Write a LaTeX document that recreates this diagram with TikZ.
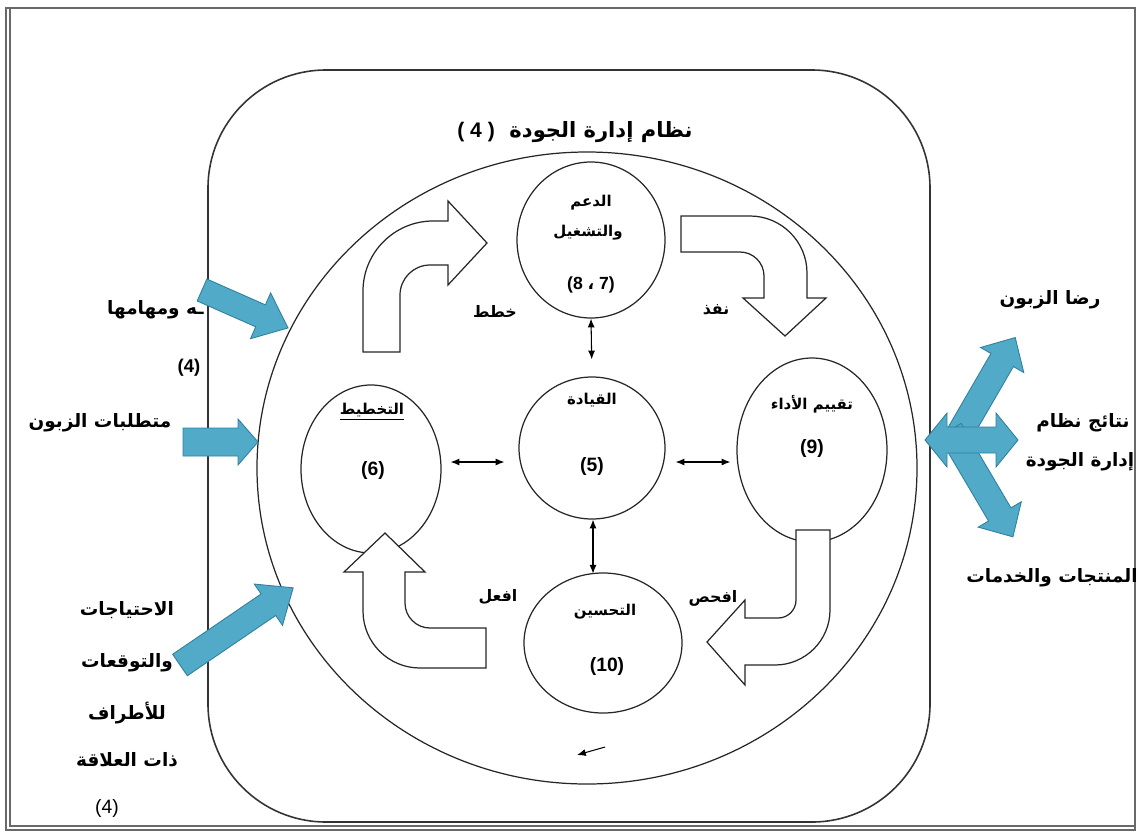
\documentclass[tikz,border=0pt]{standalone}
\usepackage{fontspec}
\setmainfont{Liberation Sans}
\newfontfamily\arabicfont[Script=Arabic]{DejaVu Sans}
\TeXXeTstate=1
\usetikzlibrary{shapes.geometric,arrows.meta,calc}

\definecolor{flowfill}{RGB}{80,170,200}
\definecolor{flowedge}{RGB}{48,128,158}
\definecolor{framegray}{RGB}{105,105,105}

\newdimen\pxu
\pxu=0.02cm

% Arabic text, set right to left
\newcommand{\artext}[1]{{\arabicfont\beginR #1\endR}}

% solid blue arrow: tail x, tail y, angle, length, shaft half-width, head half-width, head length
\newcommand{\flowarrow}[7]{%
  \begin{scope}[shift={(#1,#2)},rotate=#3]
    \path[flow] (0,-#5) -- ({#4-#7},-#5) -- ({#4-#7},-#6) -- (#4,0)
      -- ({#4-#7},#6) -- ({#4-#7},#5) -- (0,#5) -- cycle;
  \end{scope}}

% two-headed blue arrow: centre x, centre y, angle, half length, shaft half-width, head half-width, head length
\newcommand{\twowayarrow}[7]{%
  \begin{scope}[shift={(#1,#2)},rotate=#3]
    \path[flow] (-#4,0) -- ({-#4+#7},-#6) -- ({-#4+#7},-#5) -- ({#4-#7},-#5)
      -- ({#4-#7},-#6) -- (#4,0) -- ({#4-#7},#6) -- ({#4-#7},#5)
      -- ({-#4+#7},#5) -- ({-#4+#7},#6) -- cycle;
  \end{scope}}

\begin{document}
\begin{tikzpicture}[x=0.02cm,y=-0.02cm,
  outline/.style={draw=black!85, line width=0.7pt},
  phase/.style={ellipse, outline, inner sep=0pt},
  link/.style={{Latex[length=5pt,width=4pt]}-{Latex[length=5pt,width=4pt]}, line width=0.6pt},
  bendarrow/.style={outline, fill=white, line join=miter},
  flow/.style={fill=flowfill, draw=flowedge, line width=0.5pt, line join=miter},
  ctext/.style={font=\fontsize{8.5}{10}\selectfont\bfseries, inner sep=0pt},
  cnum/.style={font=\fontsize{11}{13}\selectfont\bfseries, inner sep=0pt},
  lbl/.style={font=\fontsize{10.5}{12.5}\selectfont\bfseries, inner sep=0pt},
  steplbl/.style={font=\fontsize{9}{11}\selectfont\bfseries, inner sep=0pt}]

\useasboundingbox (0,0) rectangle (1139,839);

% page frame
\draw[framegray, line width=0.9pt] (6,8) rectangle (1135,830);
\draw[framegray, line width=0.7pt] (10,8) -- (10,826) -- (1135,826);

% quality management system boundary
\node[draw=black!80, line width=0.9pt, rectangle, rounded corners=118\pxu,
      minimum width=722\pxu, minimum height=752\pxu, inner sep=0pt] (system) at (569,446) {};
\node[lbl, font=\fontsize{12}{14}\selectfont\bfseries] (title) at (575,132)
  {\artext{نظام إدارة الجودة\ \ \beginL{\rmfamily( 4 )}\endL}};

% PDCA ring
\node[ellipse, outline, inner sep=0pt, minimum width=660\pxu, minimum height=632\pxu] (ring) at (587,468) {};

% clause circles
\node[phase, minimum width=148\pxu, minimum height=156\pxu] (support) at (591,240) {};
\node[phase, minimum width=146\pxu, minimum height=142\pxu] (lead) at (592,448) {};
\node[phase, minimum width=140\pxu, minimum height=168\pxu] (plan) at (371,469) {};
\node[phase, minimum width=150\pxu, minimum height=184\pxu] (eval) at (812,450) {};
\node[phase, minimum width=158\pxu, minimum height=140\pxu] (impr) at (603,643) {};

\node[ctext] (supportA) at ($(support)+(0,-37)$) {\artext{الدعم}};
\node[ctext] (supportB) at ($(support)+(-3,-7)$) {\artext{والتشغيل}};
\node[cnum, font=\fontsize{10}{12}\selectfont\bfseries] (supportN) at ($(support)+(0,45)$) {(8 {\arabicfont ،} 7)};

\node[ctext] (leadA) at ($(lead)+(0,-48)$) {\artext{القيادة}};
\node[cnum] (leadN) at ($(lead)+(0,18)$) {(5)};

\node[ctext] (planA) at ($(plan)+(1,-57)$) {\underline{\artext{التخطيط}}};
\node[cnum] (planN) at ($(plan)+(2,1)$) {(6)};

\node[ctext] (evalA) at ($(eval)+(0,-46)$) {\artext{تقييم الأداء}};
\node[cnum] (evalN) at ($(eval)+(0,-2)$) {(9)};

\node[ctext] (imprA) at ($(impr)+(2,-31)$) {\artext{التحسين}};
\node[cnum] (imprN) at ($(impr)+(4,23)$) {(10)};

% links between leadership and the other clauses
\draw[link, shorten >=17\pxu] (support.south) -- (lead.north);
\draw[link] ($(lead.south)+(1,0)$) -- ($(lead.south)+(1,54)$);
\draw[link] ($(plan.east)+(9,-7)$) -- ($(lead.west)+(-14,14)$);
\draw[link] ($(lead.east)+(10,14)$) -- ($(eval.west)+(-6,12)$);

% bent block arrows of the cycle
\path[bendarrow] (363,352) -- (363,291) .. controls (363,252.5) and (394.5,221) .. (433,221)
  -- (448,221) -- (448,201) -- (487,243) -- (448,285) -- (448,265) -- (430,265)
  .. controls (413.5,265) and (400,278.5) .. (400,295) -- (400,352) -- cycle;
\path[bendarrow] (681,216) -- (750,216) .. controls (781.4,216) and (807,241.6) .. (807,273)
  -- (807,298) -- (826,298) -- (785,336) -- (743,298) -- (764,298) -- (764,276)
  .. controls (764,262.8) and (753.2,252) .. (740,252) -- (681,252) -- cycle;
\path[bendarrow] (796,530) -- (830,530) -- (830,610) .. controls (830,640.3) and (805.3,665) .. (775,665)
  -- (745,665) -- (745,685) -- (707,642) -- (745,600) -- (745,618) -- (778,618)
  .. controls (788,618) and (796,610) .. (796,600) -- cycle;
\path[bendarrow] (486,628) -- (430,628) .. controls (416.2,628) and (405,616.8) .. (405,603)
  -- (405,572) -- (425,572) -- (385,533) -- (344,572) -- (363,572) -- (363,611)
  .. controls (363,642.5) and (388.5,668) .. (420,668) -- (486,668) -- cycle;

% cycle step labels
\node[steplbl] (plant) at (495,311) {\artext{خطط}};
\node[steplbl] (dot) at (716,310) {\artext{نفذ}};
\node[steplbl] (check) at (713,598) {\artext{افحص}};
\node[steplbl] (act) at (498,597) {\artext{افعل}};

% small direction mark on the ring
\coordinate (markS) at (605,747);
\coordinate (markE) at (577,755);
\draw[-{Latex[length=5pt,width=4pt]}, line width=0.6pt] (markS) -- (markE);

% inputs
\node[lbl, anchor=east] (ctx) at (204,310) {\artext{ـه ومهامها}};
\node[lbl] (ctxN) at (189,368) {(4)};
\node[lbl] (req) at (100,423) {\artext{متطلبات الزبون}};
\node[lbl] (needsA) at (127,610) {\artext{الاحتياجات}};
\node[lbl] (needsB) at (127,663) {\artext{والتوقعات}};
\node[lbl] (needsC) at (127,713) {\artext{للأطراف}};
\node[lbl] (needsD) at (127,760) {\artext{ذات العلاقة}};
\node[font=\fontsize{11}{13}\selectfont, inner sep=0pt] (needsN) at (107,808) {(4)};

% outputs
\node[lbl] (sat) at (1050,300) {\artext{رضا الزبون}};
\node[lbl] (resA) at (1083,423) {\artext{نتائج نظام}};
\node[lbl] (resB) at (1080,462) {\artext{إدارة الجودة}};
\node[lbl] (prod) at (1052,578) {\artext{المنتجات والخدمات}};

% blue input arrows
\flowarrow{202}{290}{-23.8}{94}{12}{25}{30}
\flowarrow{183}{442}{0}{75}{14}{23}{20}
\flowarrow{180}{665}{34.3}{137}{13}{25}{30}

% blue output arrows
\flowarrow{950}{450}{59.9}{130}{13}{25}{26}
\flowarrow{950}{430}{-59.5}{124}{13}{25}{26}
\twowayarrow{971.5}{440}{0}{46.5}{13}{27}{22}

\end{tikzpicture}
\end{document}
